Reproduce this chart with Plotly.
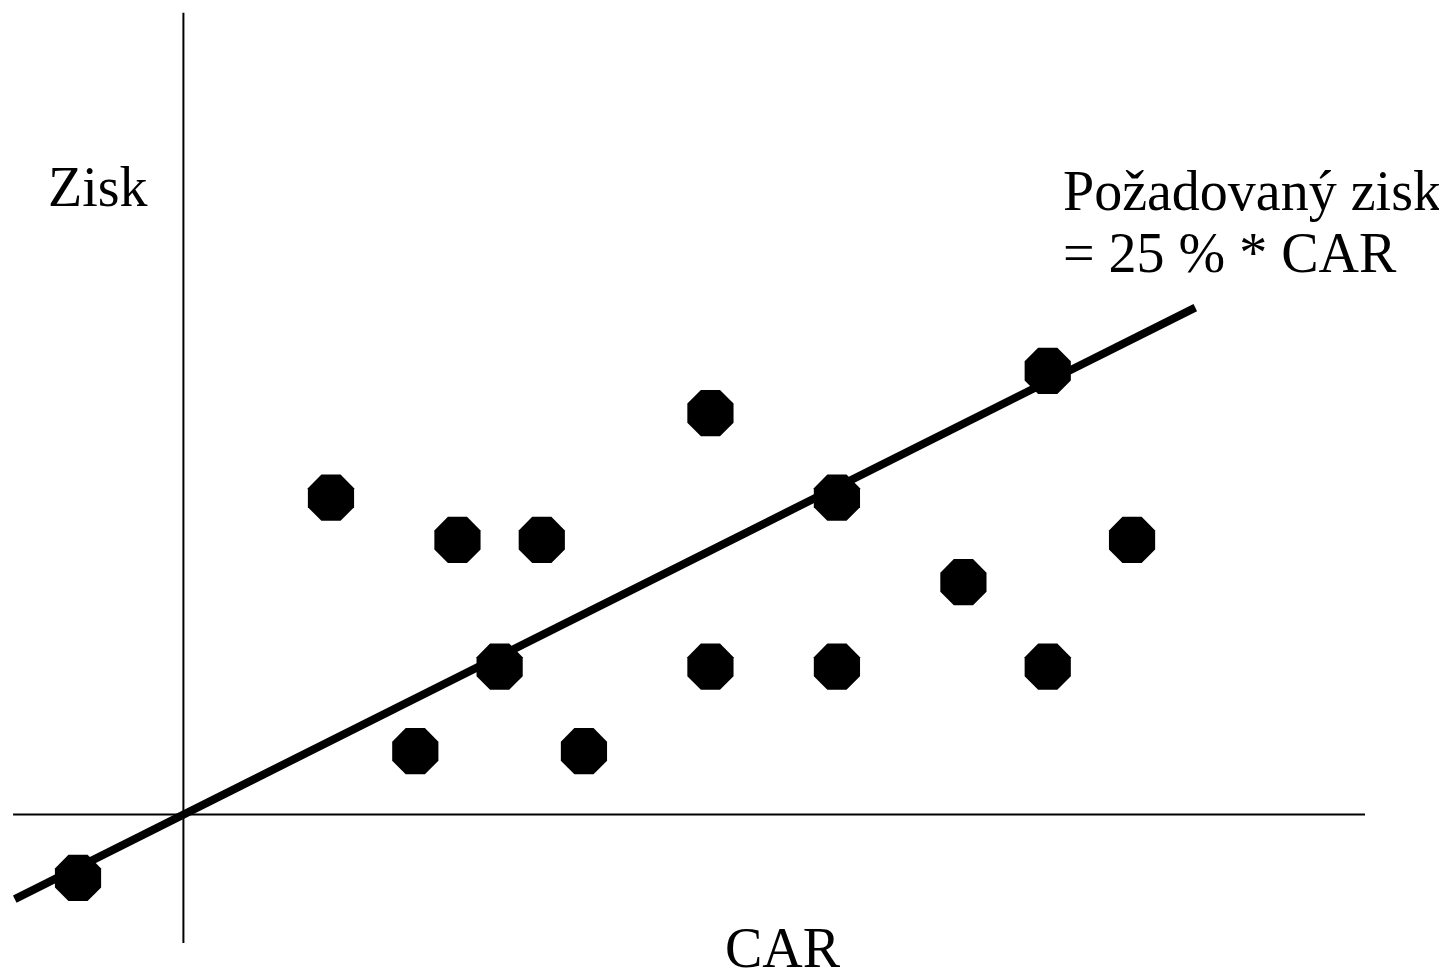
import plotly.graph_objects as go

# Data (CAR on x, Zisk on y)
car = [-5, 7, 11, 13, 15, 17, 19, 25, 25, 31, 31, 37, 41, 41, 45]
zisk = [-1.5, 7.5, 1.5, 6.5, 3.5, 6.5, 1.5, 9.5, 3.5, 7.5, 3.5, 5.5, 10.5, 3.5, 6.5]

line_car = [-8, 48]
rate = 0.25
line_zisk = [rate * c for c in line_car]

x_axis_car = [-8.08, 56.05]
y_axis_zisk = [18.98, -3.04]

FONT = "Liberation Serif, Times New Roman, serif"

fig = go.Figure()
# axes
fig.add_trace(go.Scatter(x=x_axis_car, y=[0, 0], mode="lines",
                         line=dict(color="black", width=2), hoverinfo="skip"))
fig.add_trace(go.Scatter(x=[0, 0], y=y_axis_zisk, mode="lines",
                         line=dict(color="black", width=2), hoverinfo="skip"))
# required profit line
fig.add_trace(go.Scatter(x=line_car, y=line_zisk, mode="lines",
                         line=dict(color="black", width=8), hoverinfo="skip"))
# points
fig.add_trace(go.Scatter(x=car, y=zisk, mode="markers",
                         marker=dict(symbol="octagon", size=50, color="black",
                                     line=dict(width=0))))

ann = dict(font=dict(family=FONT, size=56, color="black"), showarrow=False,
           xref="x", yref="y")
fig.add_annotation(x=-6.52, y=14.85, text="Zisk", xanchor="left", yanchor="middle", **ann)
fig.add_annotation(x=41.62, y=14.76, text="Požadovaný zisk", xanchor="left", yanchor="middle", **ann)
fig.add_annotation(x=41.62, y=13.29, text="= 25 % * CAR", xanchor="left", yanchor="middle", **ann)
fig.add_annotation(x=28.45, y=-3.16, text="CAR", xanchor="center", yanchor="middle", **ann)

fig.update_layout(
    width=1439, height=963,
    margin=dict(l=0, r=0, t=0, b=0),
    plot_bgcolor="white", paper_bgcolor="white",
    showlegend=False,
    xaxis=dict(range=[-8.321, 59.94], visible=False, fixedrange=True),
    yaxis=dict(range=[-3.702, 19.09], visible=False, fixedrange=True),
)
fig.write_html("out.html")
